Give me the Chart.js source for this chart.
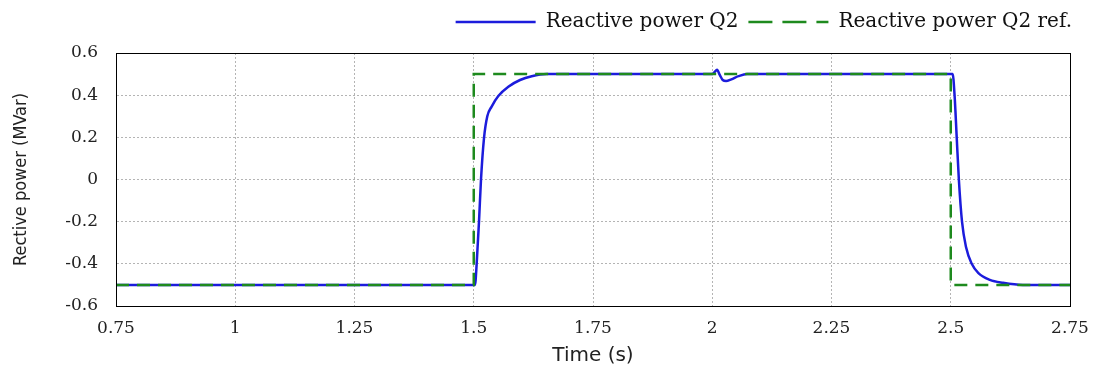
<!DOCTYPE html>
<html>
<head>
<meta charset="utf-8">
<script src="https://cdn.jsdelivr.net/npm/chart.js@4/dist/chart.umd.min.js"></script>
<style>
  html, body { margin: 0; padding: 0; background: #fff; }
  #wrap { width: 1104px; height: 371px; }
</style>
</head>
<body>
<div id="wrap"><canvas id="myChart"></canvas></div>
<script>
const timeQ2 = [0.75, 1.5, 1.5026, 1.5062, 1.511, 1.5152, 1.5215, 1.5284, 1.5375, 1.5515, 1.5725, 1.597, 1.6215, 1.653,
  2.0, 2.005, 2.010, 2.016, 2.022, 2.029, 2.040, 2.055, 2.073,
  2.504, 2.508, 2.5125, 2.517, 2.5236, 2.532, 2.544, 2.558, 2.582, 2.6095, 2.651, 2.75];
const valueQ2 = [-0.5, -0.5, -0.5, -0.397, -0.2, 0.0, 0.196, 0.30, 0.346, 0.396, 0.44, 0.472, 0.49, 0.5,
  0.5, 0.51, 0.52, 0.495, 0.472, 0.467, 0.475, 0.49, 0.5,
  0.5, 0.40, 0.20, 0.0, -0.2, -0.32, -0.40, -0.444, -0.476, -0.49, -0.5, -0.5];

// reference step
const timeRef = [0.75, 1.5, 1.5, 2.5, 2.5, 2.75];
const valueRef = [-0.5, -0.5, 0.5, 0.5, -0.5, -0.5];

const xTickLabels = ['0.75', '1', '1.25', '1.5', '1.75', '2', '2.25', '2.5', '2.75'];
const yTickLabels = ['-0.6', '-0.4', '-0.2', '0', '0.2', '0.4', '0.6'];

function toPoints(xs, ys) {
  let pts = [];
  for (let i = 0; i < xs.length; i++) {
    pts.push({x: xs[i], y: ys[i]});
  }
  return pts;
}

// black frame round the plot area
const frame = {
  id: 'frame',
  afterDatasetsDraw(chart) {
    const a = chart.chartArea;
    const ctx = chart.ctx;
    ctx.save();
    ctx.strokeStyle = '#000';
    ctx.lineWidth = 1;
    ctx.strokeRect(a.left + 0.5, a.top + 0.5, a.right - a.left, a.bottom - a.top);
    ctx.restore();
  }
};

// more room under the legend, and let it run a little past the plot edge
const legendGap = {
  id: 'legendGap',
  beforeLayout(chart) {
    const lg = chart.legend;
    if (lg && !lg._gapPatched) {
      const fit = lg.fit;
      lg.fit = function() {
        fit.call(this);
        this.height += 11;
      };
      lg._gapPatched = true;
    }
  },
  afterLayout(chart) {
    chart.legend.left += 12;
    chart.legend.right += 12;
  }
};

// legend sample is a flat box stroked out and back, so the dash ends with a long gap
const legendDash = [24, 10, 24, 10, 12, 200];

const serif = "'DejaVu Serif', 'Liberation Serif', serif";
const sans = "'DejaVu Sans', 'Liberation Sans', sans-serif";
const narrow = "'DejaVu Sans Condensed', 'Liberation Sans', sans-serif";

new Chart(document.getElementById('myChart'), {
  type: 'line',
  data: {
    datasets: [{
      label: 'Reactive power Q2',
      data: toPoints(timeQ2, valueQ2),
      borderColor: '#1c1cdc',
      borderWidth: 2.5,
      pointRadius: 0,
      cubicInterpolationMode: 'monotone',
      order: 1
    }, {
      label: 'Reactive power Q2 ref.',
      data: toPoints(timeRef, valueRef),
      borderColor: '#1e8a1e',
      borderWidth: 2.5,
      borderDash: [13, 8],
      pointRadius: 0,
      tension: 0,
      order: 0
    }]
  },
  plugins: [frame, legendGap],
  options: {
    responsive: true,
    maintainAspectRatio: false,
    animation: false,
    layout: { padding: { left: 0, right: 34, top: 2, bottom: 0 } },
    plugins: {
      tooltip: { enabled: false },
      legend: {
        position: 'top',
        align: 'end',
        labels: {
          font: { family: serif, size: 20 },
          color: '#111',
          boxWidth: 80,
          boxHeight: 0,
          padding: 10,
          sort: (a, b) => a.datasetIndex - b.datasetIndex,
          generateLabels: (chart) => {
            const items = Chart.defaults.plugins.legend.labels.generateLabels(chart);
            items.forEach((it) => {
              const ds = chart.data.datasets[it.datasetIndex];
              it.lineDash = ds.borderDash ? legendDash : [];
              it.fillStyle = 'rgba(0,0,0,0)';
            });
            return items;
          }
        }
      }
    },
    scales: {
      x: {
        type: 'linear',
        min: 0.75,
        max: 2.75,
        afterFit: (scale) => { scale.height = 65; },
        ticks: {
          stepSize: 0.25,
          padding: 12,
          color: '#222',
          font: { family: serif, size: 17 },
          maxRotation: 0,
          callback: (v) => xTickLabels[Math.round((v - 0.75) / 0.25)]
        },
        grid: { color: '#b4b4b4', drawTicks: false, lineWidth: 1 },
        border: { display: true, color: '#000', dash: [2, 2] },
        title: {
          display: true,
          text: 'Time (s)',
          color: '#222',
          font: { family: sans, size: 20 },
          padding: { top: 0, bottom: 3 }
        }
      },
      y: {
        min: -0.6,
        max: 0.6,
        afterFit: (scale) => { scale.width = 116; },
        ticks: {
          stepSize: 0.2,
          padding: 18,
          color: '#222',
          font: { family: serif, size: 17 },
          callback: (v) => yTickLabels[Math.round((v + 0.6) / 0.2)]
        },
        grid: { color: '#b4b4b4', drawTicks: false, lineWidth: 1 },
        border: { display: true, color: '#000', dash: [2, 2] },
        title: {
          display: true,
          text: 'Rective power (MVar)',
          color: '#222',
          font: { family: narrow, size: 18 },
          padding: { top: 11, bottom: 0 }
        }
      }
    }
  }
});
</script>
</body>
</html>
